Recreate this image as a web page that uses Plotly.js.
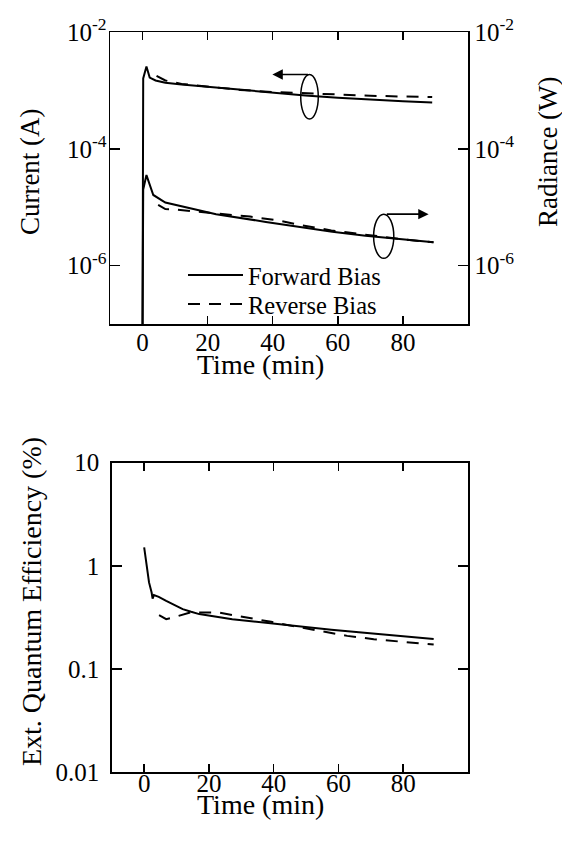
<!DOCTYPE html>
<html>
<head>
<meta charset="utf-8">
<script src="https://cdn.plot.ly/plotly-3.0.1.min.js"></script>
<style>html,body{margin:0;padding:0;background:#fff;}#chart{width:562px;height:850px;}</style>
</head>
<body>
<div id="chart"></div>
<script>
// ---- data ----
var timeCurFwd = [0, 0.2, 1.2, 2.2, 4, 7, 12, 20, 30, 40, 50, 60, 70, 80, 89];
var curFwd = [1e-7, 1.6e-3, 2.57e-3, 1.66e-3, 1.48e-3, 1.35e-3, 1.26e-3, 1.15e-3, 1.02e-3, 9.1e-4, 8.2e-4, 7.5e-4, 6.9e-4, 6.5e-4, 6.2e-4];
var timeCurRev = [4.3, 7, 12, 20, 30, 40, 50, 60, 70, 80, 89];
var curRev = [1.78e-3, 1.48e-3, 1.29e-3, 1.15e-3, 1.02e-3, 9.4e-4, 8.9e-4, 8.5e-4, 8.1e-4, 7.85e-4, 7.7e-4];
var timeRadFwd = [0, 0.2, 1.2, 3.3, 7, 12.4, 22.6, 37.9, 48.1, 58.3, 68.5, 80, 89.4];
var radFwd = [1e-7, 2.0e-5, 3.55e-5, 1.62e-5, 1.2e-5, 1.02e-5, 7.6e-6, 5.6e-6, 4.6e-6, 3.8e-6, 3.24e-6, 2.82e-6, 2.5e-6];
var timeRadRev = [4.8, 7, 10, 16, 24, 33, 42, 48, 58, 68, 80, 89.4];
var radRev = [1.1e-5, 9.3e-6, 9.1e-6, 8.5e-6, 7.8e-6, 6.9e-6, 5.9e-6, 5.0e-6, 4.0e-6, 3.4e-6, 2.82e-6, 2.5e-6];
var timeEqeFwd = [0, 0.7, 1.5, 2.3, 2.6, 3, 4.5, 6.8, 9.4, 11.9, 14.5, 17, 27.2, 37.4, 47.6, 57.8, 68, 78.2, 89.4];
var eqeFwd = [1.51, 1.0, 0.69, 0.55, 0.48, 0.52, 0.50, 0.457, 0.415, 0.38, 0.358, 0.34, 0.303, 0.28, 0.257, 0.24, 0.224, 0.209, 0.195];
var timeEqeRev = [4.6, 6.8, 9, 14.2, 22.9, 31, 39.2, 46, 54.6, 62.7, 70.9, 79, 87.3, 89.4];
var eqeRev = [0.332, 0.304, 0.316, 0.352, 0.352, 0.319, 0.286, 0.26, 0.234, 0.209, 0.194, 0.183, 0.174, 0.172];

var xTicks = [0, 20, 40, 60, 80];
var topTickVals = [1e-6, 1e-4, 1e-2];
var topTickText = ['10<sup>-6</sup>', '10<sup>-4</sup>', '10<sup>-2</sup>'];
var eqeTickVals = [0.01, 0.1, 1, 10];
var eqeTickText = ['0.01', '0.1', '1', '10'];
var seriesNames = ['Forward Bias', 'Reverse Bias'];

// ---- styling ----
var FONT = 'Liberation Serif, Times New Roman, serif';
var solid = {color: '#000', width: 2, dash: 'solid'};
var dashed = {color: '#000', width: 2, dash: '12px,9px'};

var traces = [
  {x: timeCurFwd, y: curFwd, xaxis: 'x', yaxis: 'y', mode: 'lines', line: solid, name: seriesNames[0], showlegend: true, legend: 'legend'},
  {x: timeCurRev, y: curRev, xaxis: 'x', yaxis: 'y', mode: 'lines', line: dashed, name: seriesNames[1], showlegend: true, legend: 'legend2'},
  {x: timeRadFwd, y: radFwd, xaxis: 'x', yaxis: 'y2', mode: 'lines', line: solid, name: seriesNames[0], showlegend: false},
  {x: timeRadRev, y: radRev, xaxis: 'x', yaxis: 'y2', mode: 'lines', line: dashed, name: seriesNames[1], showlegend: false},
  {x: timeEqeFwd, y: eqeFwd, xaxis: 'x2', yaxis: 'y3', mode: 'lines', line: solid, name: seriesNames[0], showlegend: false},
  {x: timeEqeRev, y: eqeRev, xaxis: 'x2', yaxis: 'y3', mode: 'lines', line: dashed, name: seriesNames[1], showlegend: false}
];

var tickFont = {family: FONT, size: 25, color: '#000'};
function xAxis(anchor, domain, standoff) {
  return {anchor: anchor, domain: domain, range: [-10, 100], tickvals: xTicks, ticks: 'inside', ticklen: 8,
    tickwidth: 1.5, tickcolor: '#000', showline: true, linecolor: '#000', linewidth: 1.5, mirror: 'ticks',
    showgrid: false, zeroline: false, tickfont: tickFont, automargin: false, ticklabelstandoff: standoff};
}
function yAxis(extra) {
  var a = {type: 'log', ticks: 'inside', ticklen: 10, tickwidth: 1.5, tickcolor: '#000', showline: true,
    linecolor: '#000', linewidth: 1.5, showgrid: false, zeroline: false, tickfont: tickFont, automargin: false};
  for (var k in extra) a[k] = extra[k];
  return a;
}

function tf(size) { return {family: FONT, size: size, color: '#000'}; }
var legendBase = {xanchor: 'left', yanchor: 'middle', bgcolor: 'rgba(0,0,0,0)', itemwidth: 55,
  font: {family: FONT, size: 24.5, color: '#000'}, borderwidth: 0};
function legendAt(x, y) { var l = {x: x, y: y}; for (var k in legendBase) l[k] = legendBase[k]; return l; }

var layout = {
  width: 562, height: 850,
  margin: {l: 110, r: 94, t: 32, b: 78},
  paper_bgcolor: '#fff', plot_bgcolor: 'rgba(0,0,0,0)',
  font: {family: FONT, color: '#000'},
  showlegend: true,
  legend: legendAt(0.2039, 0.6716),
  legend2: legendAt(0.2039, 0.6324),
  xaxis: xAxis('y', [0, 1], -5),
  xaxis2: xAxis('y3', [0.005, 1], -12),
  yaxis: yAxis({anchor: 'x', domain: [0.6054, 1], range: [-7, -2], tickvals: topTickVals, ticktext: topTickText, mirror: false, ticklabelstandoff: -3}),
  yaxis2: yAxis({anchor: 'x', overlaying: 'y', side: 'right', range: [-7, -2], tickvals: topTickVals, ticktext: topTickText}),
  yaxis3: yAxis({anchor: 'x2', domain: [0, 0.418], range: [-2, 1], tickvals: eqeTickVals, ticktext: eqeTickText, mirror: 'ticks', ticklabelstandoff: 6}),
  shapes: [
    {type: 'circle', xref: 'x', yref: 'y', x0: 48.6, x1: 54.0, y0: 3.24e-4, y1: 1.87e-3, line: {color: '#000', width: 1.5}},
    {type: 'circle', xref: 'x', yref: 'y2', x0: 71.0, x1: 77.2, y0: 1.33e-6, y1: 7.6e-6, line: {color: '#000', width: 1.5}}
  ],
  annotations: [
    {xref: 'x', yref: 'y', x: 39.9, y: -2.729, axref: 'x', ayref: 'y', ax: 51.3, ay: -2.729, text: '', showarrow: true,
      arrowhead: 2, arrowsize: 1.3, arrowwidth: 1.6, arrowcolor: '#000', standoff: 0, startstandoff: 0},
    {xref: 'x', yref: 'y2', x: 87.9, y: -5.119, axref: 'x', ayref: 'y2', ax: 74.6, ay: -5.119, text: '', showarrow: true,
      arrowhead: 2, arrowsize: 1.3, arrowwidth: 1.6, arrowcolor: '#000', standoff: 0, startstandoff: 0},
    {xref: 'paper', yref: 'paper', x: -0.2235, y: 0.812, text: 'Current (A)', textangle: -90, showarrow: false,
      xanchor: 'center', yanchor: 'middle', font: tf(27)},
    {xref: 'paper', yref: 'paper', x: 1.224, y: 0.838, text: 'Radiance (W)', textangle: -90, showarrow: false,
      xanchor: 'center', yanchor: 'middle', font: tf(27)},
    {xref: 'paper', yref: 'paper', x: -0.219, y: 0.2304, text: 'Ext. Quantum Efficiency (%)', textangle: -90, showarrow: false,
      xanchor: 'center', yanchor: 'middle', font: tf(28)},
    {xref: 'paper', yref: 'paper', x: 0.42, y: 0.551, text: 'Time (min)', showarrow: false,
      xanchor: 'center', yanchor: 'middle', font: tf(28)},
    {xref: 'paper', yref: 'paper', x: 0.42, y: -0.0445, text: 'Time (min)', showarrow: false,
      xanchor: 'center', yanchor: 'middle', font: tf(28)}
  ]
};

Plotly.newPlot('chart', traces, layout, {staticPlot: true, displayModeBar: false});
</script>
</body>
</html>
